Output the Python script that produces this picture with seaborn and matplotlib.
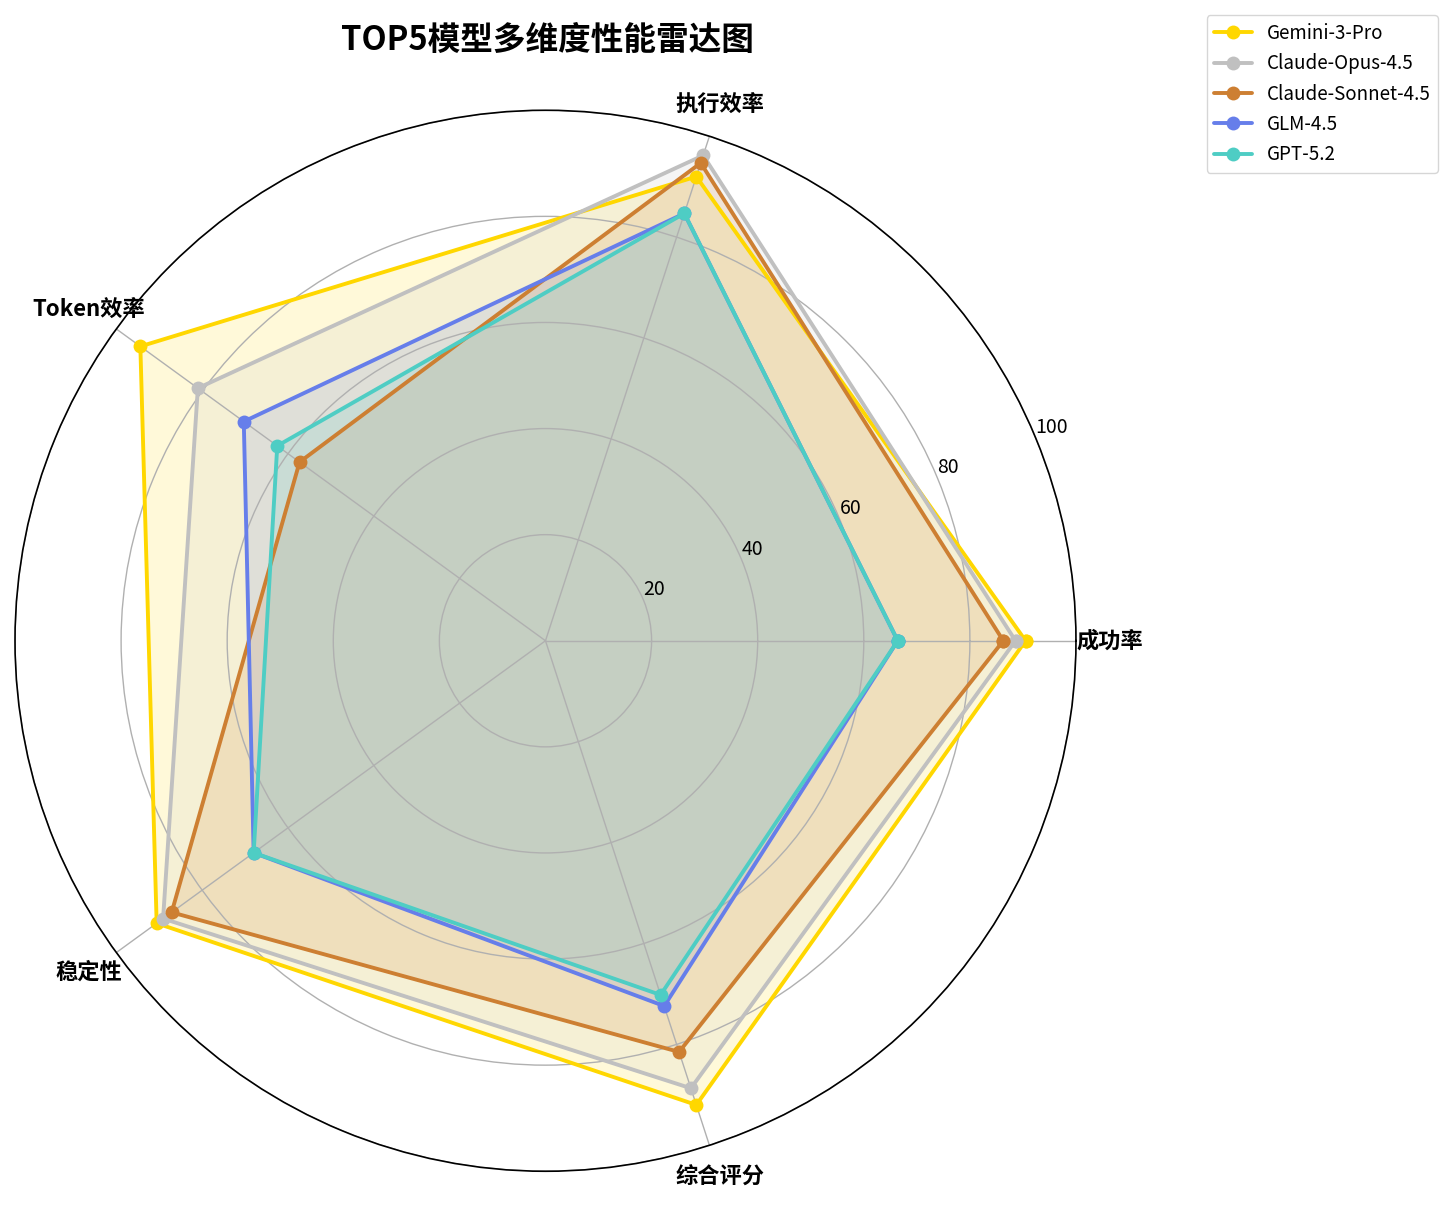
import numpy as np
import pandas as pd
import matplotlib
matplotlib.use("Agg")
import matplotlib.pyplot as plt
import seaborn as sns

# Radar data
categories = ["成功率", "执行效率", "Token效率", "稳定性", "综合评分"]
models = ["Gemini-3-Pro", "Claude-Opus-4.5", "Claude-Sonnet-4.5", "GLM-4.5", "GPT-5.2"]
gemini = [90.5, 92.0, 94.4, 90.6, 92.0]
opus = [88.6, 96.2, 81.0, 89.1, 88.7]
sonnet = [86.3, 94.7, 57.3, 87.1, 81.5]
glm = [66.4, 84.7, 70.3, 68.0, 72.4]
gpt = [66.4, 84.7, 62.5, 68.0, 70.2]
colors = ["#FFD700", "#C0C0C0", "#CD7F32", "#667EEA", "#4ECDC4"]
r_ticks = [20, 40, 60, 80, 100]

sns.set_style("white")
plt.rcParams["font.family"] = ["Noto Sans CJK SC", "DejaVu Sans"]
plt.rcParams["text.color"] = "black"
plt.rcParams["xtick.color"] = "black"
plt.rcParams["ytick.color"] = "black"
plt.rcParams["axes.axisbelow"] = "line"

values = [gemini, opus, sonnet, glm, gpt]
angles = np.linspace(0, 2 * np.pi, len(categories), endpoint=False)

fig = plt.figure(figsize=(14.56, 12.05), dpi=100)
ax = fig.add_axes([0.0103, 0.028, 0.7287, 0.8805], projection="polar")

for name, vals, col in zip(models, values, colors):
    # close the polygon with 2*pi so the angles stay unique
    df = pd.DataFrame({"angle": np.append(angles, 2 * np.pi),
                       "score": np.append(vals, vals[0])})
    sns.lineplot(data=df, x="angle", y="score", ax=ax, sort=False, estimator=None,
                 color=col, linewidth=2.8, marker="o", markersize=10,
                 markeredgewidth=0, label=name)
    ax.fill(df["angle"], df["score"], color=col, alpha=0.15)

ax.set_ylim(0, 100)
ax.set_yticks(r_ticks)
ax.set_yticklabels([str(t) for t in r_ticks], fontsize=14)
ax.set_rlabel_position(22.5)
ax.set_xticks(angles)
ax.set_xticklabels(categories, fontsize=16, fontweight="bold")
ax.tick_params(axis="x", pad=14)
ax.set_xlabel("")
ax.set_ylabel("")
ax.grid(True, color="#b0b0b0", linewidth=1)
ax.spines["polar"].set_color("black")
ax.spines["polar"].set_linewidth(1.2)

handles, labels = ax.get_legend_handles_labels()
ax.get_legend().remove()
fig.legend(handles, labels, loc="upper right", bbox_to_anchor=(0.994, 0.995),
           fontsize=13.5, frameon=True, edgecolor="#cccccc")

fig.text(547 / 1456, 1 - 40 / 1205, "TOP5模型多维度性能雷达图",
         ha="center", va="center", fontsize=23.5, fontweight="bold")

fig.savefig("out.png", dpi=100)
